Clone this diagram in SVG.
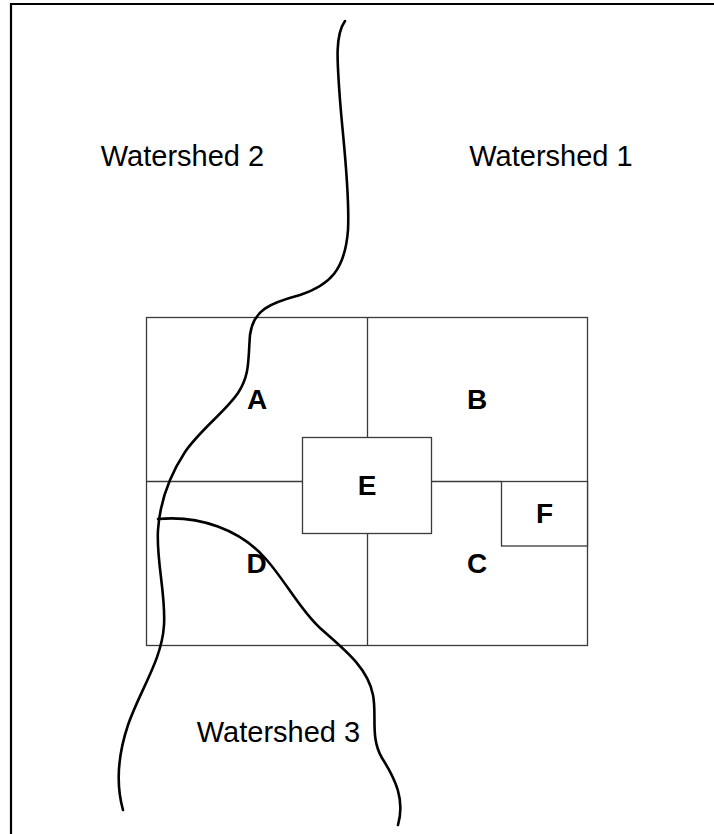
<svg xmlns="http://www.w3.org/2000/svg" width="714" height="834" viewBox="0 0 714 834">
<style>
.frame{fill:none;stroke:#000;stroke-width:2.2}
.grid{fill:none;stroke:#3a3a3a;stroke-width:1.3}
.box{fill:#fff;stroke:#3a3a3a;stroke-width:1.3}
.river{fill:none;stroke:#000;stroke-width:2.6;stroke-linecap:round}
.ws{font-family:"Liberation Sans",Arial,sans-serif;font-size:29px;fill:#000;text-anchor:middle}
.lbl{font-family:"Liberation Sans",Arial,sans-serif;font-size:28px;font-weight:bold;fill:#000;text-anchor:middle}
</style>
<rect x="0" y="0" width="714" height="834" fill="#fff"/>
<path class="frame" d="M11,834 V4 H714"/>
<g id="grid">
<rect class="grid" x="146.5" y="317.5" width="441" height="328"/>
<path class="grid" d="M367.5,317.5 V437.5 M367.5,533.5 V645.5 M146.5,481.5 H302.5 M431.5,481.5 H501.5"/>
</g>
<g id="A"><text class="lbl" x="257" y="409">A</text></g>
<g id="B"><text class="lbl" x="477" y="409">B</text></g>
<g id="C"><text class="lbl" x="477" y="573">C</text></g>
<g id="D"><text class="lbl" x="256.5" y="573">D</text></g>
<g id="E"><rect class="box" x="302.5" y="437.5" width="129" height="96"/><text class="lbl" x="367" y="495">E</text></g>
<g id="F"><rect class="box" x="501.5" y="481.5" width="86" height="64.5"/><text class="lbl" x="544.5" y="523">F</text></g>
<g id="connectors">
<path class="river" d="M345,21 C335,35 337,60 340,100 C343,140 350,190 348,230 C345,270 330,285 300,295 C270,303 253,310 250,335 C248,360 250,375 238,393 C225,412 200,430 185,452 C170,475 160,500 158,530 C156,560 166,595 164,625 C162,660 140,690 128,725 C118,755 116,785 123,810"/>
<path class="river" d="M158,519 C200,515 240,530 265,558 C285,580 300,610 320,628 C345,650 368,668 373,695 C377,715 370,738 382,758 C396,780 405,800 398,825"/>
</g>
<g id="labels">
<text class="ws" x="182.5" y="165.5">Watershed 2</text>
<text class="ws" x="551" y="165.5">Watershed 1</text>
<text class="ws" x="278.5" y="741.5">Watershed 3</text>
</g>
</svg>
